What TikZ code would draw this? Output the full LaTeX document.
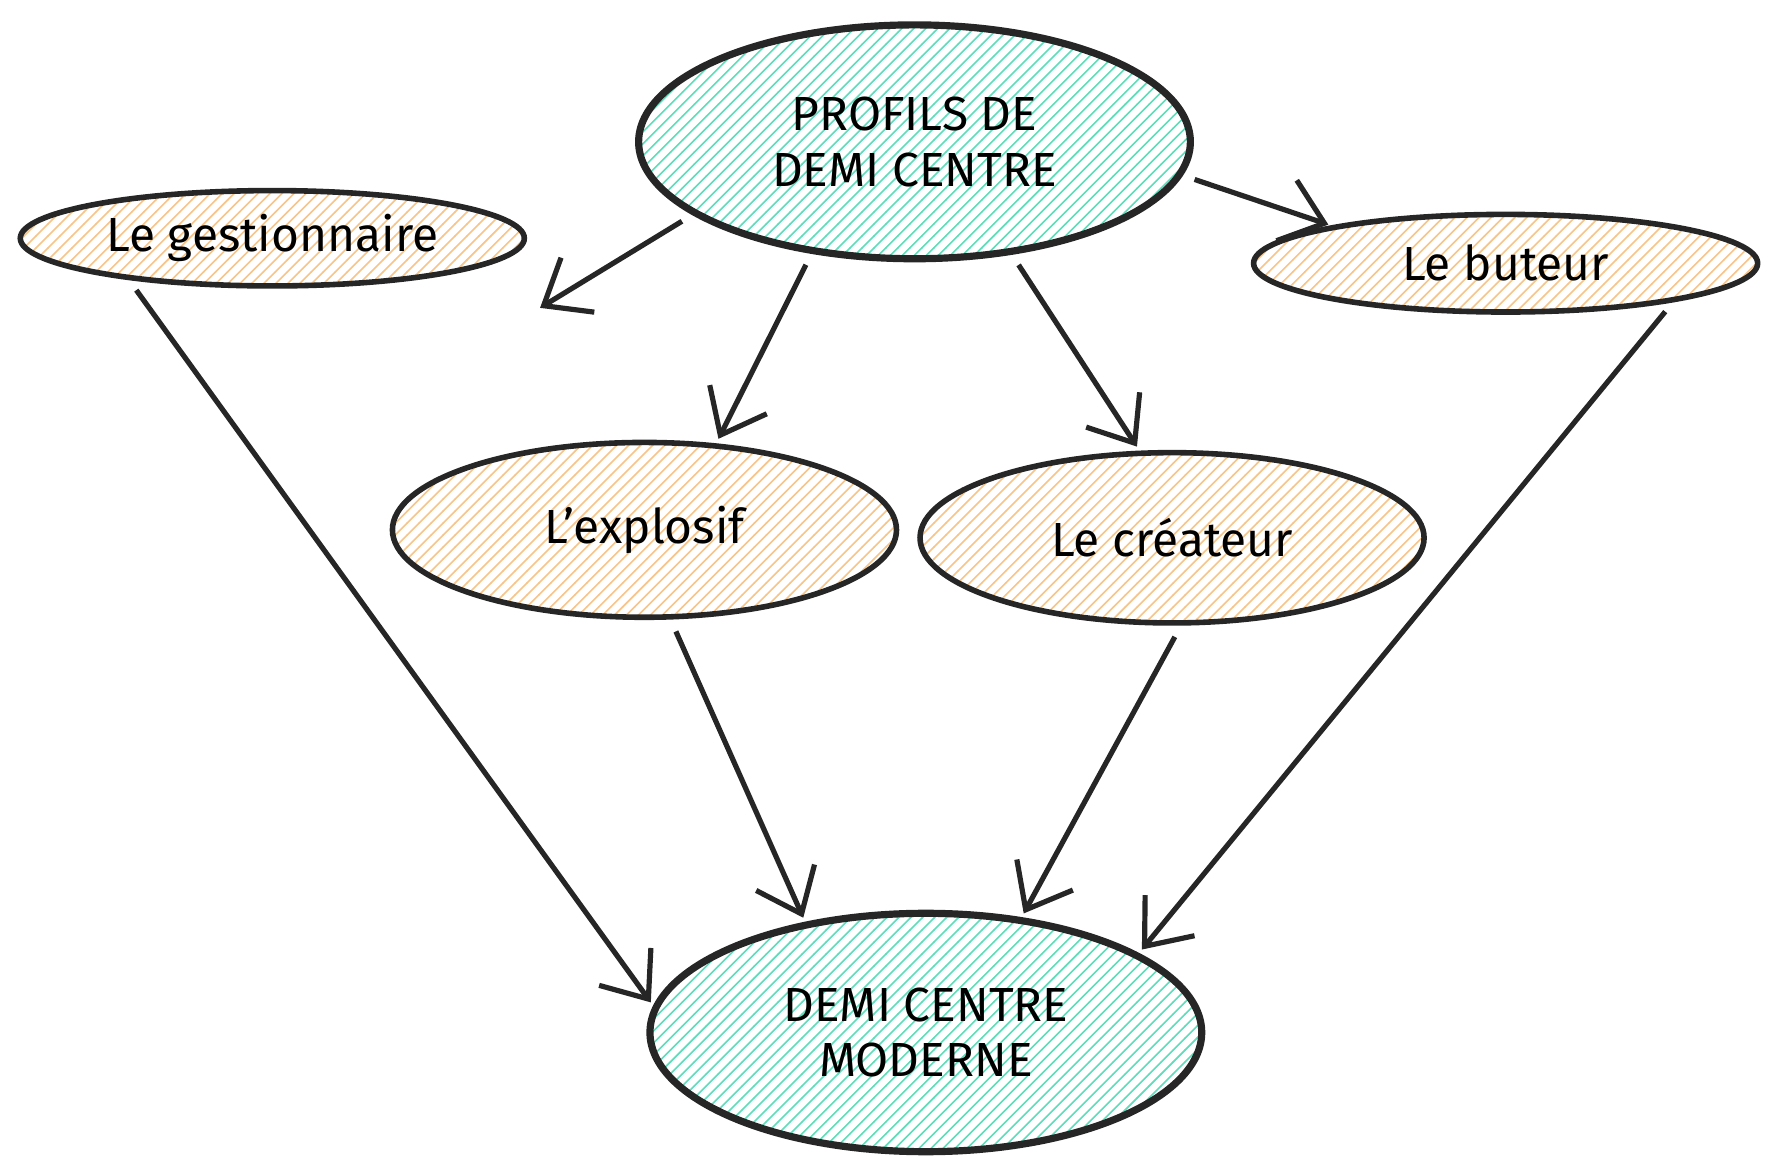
\documentclass[tikz,border=0pt]{standalone}
\usepackage{fontspec}
\setmainfont{Fira Sans}
\usetikzlibrary{shapes.geometric,patterns,arrows.meta}
\definecolor{menthe}{HTML}{5FDDBA}
\definecolor{peche}{HTML}{F7C48A}
\begin{document}
\begin{tikzpicture}[x=0.01cm,y=-0.01cm,
    profil/.style={ellipse,draw=black!85,line width=1.4pt,inner sep=0pt,outer sep=0pt,pattern=north east lines,pattern color=peche,font=\large,align=center},
    bloc/.style={profil,line width=1.8pt,pattern color=menthe,font=\large},
    fleche/.style={-{Straight Barb[length=10pt,width=16pt]},line width=1.3pt,black!85,shorten <=4pt,shorten >=2pt}]
    \useasboundingbox (0,0) rectangle (1560,1031);
    % noeuds
    \node[bloc,minimum width=4.86cm,minimum height=2.06cm] (profils) at (806,125) {PROFILS DE\\DEMI CENTRE};
    \node[profil,minimum width=4.44cm,minimum height=0.84cm] (gest) at (240,210) {Le gestionnaire};
    \node[profil,minimum width=4.44cm,minimum height=0.86cm] (buteur) at (1327,232) {Le buteur};
    \node[profil,minimum width=4.44cm,minimum height=1.54cm] (explo) at (568,467) {L'explosif};
    \node[profil,minimum width=4.44cm,minimum height=1.50cm] (crea) at (1033,474) {Le créateur};
    \node[bloc,minimum width=4.86cm,minimum height=2.10cm] (moderne) at (816,910) {DEMI CENTRE\\MODERNE};
    \coordinate (vide) at (470,275);
    % liens
    \draw[fleche] (profils.198) -- (vide);
    \draw[fleche] (profils.227) -- (explo.50);
    \draw[fleche] (profils.311) -- (crea.110);
    \draw[fleche] (profils.353) -- (buteur.168);
    \draw[fleche] (gest.195) -- (moderne.175);
    \draw[fleche] (explo.286) -- (moderne.138);
    \draw[fleche] (crea.277) -- (moderne.50);
    \draw[fleche] (buteur.348) -- (moderne.20);
\end{tikzpicture}
\end{document}
